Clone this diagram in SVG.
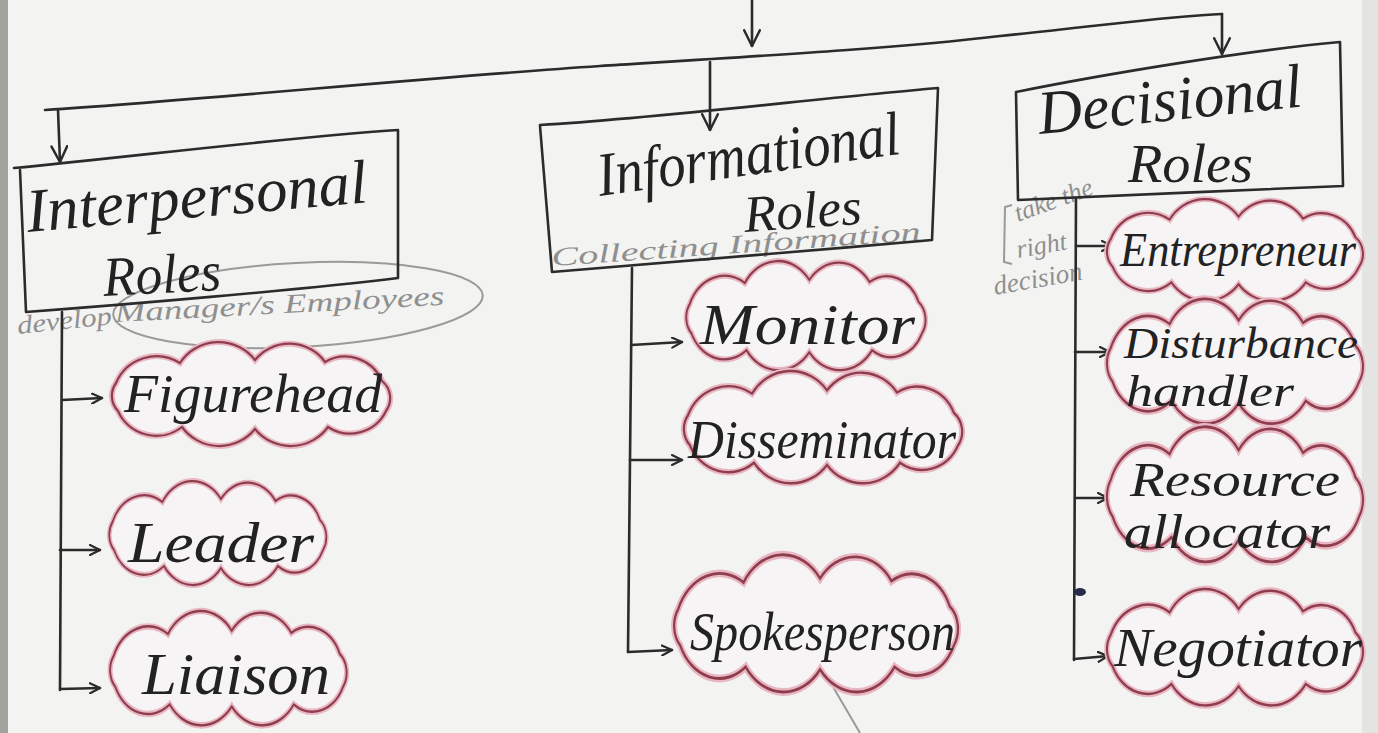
<svg xmlns="http://www.w3.org/2000/svg" xmlns:xlink="http://www.w3.org/1999/xlink" width="1378" height="733" viewBox="0 0 1378 733">
<style>
.ink{fill:none;stroke:#2b2b2b;stroke-width:2.6;stroke-linecap:round;stroke-linejoin:round}
.pencil{fill:none;stroke:#9a9a9a;stroke-width:2}
.hand{font-family:"Liberation Serif","DejaVu Serif",serif;font-style:italic;fill:#222}
.note{font-family:"Liberation Serif","DejaVu Serif",serif;font-style:italic;fill:#8f8f8f}
.cloudGlow{fill:#f6f4f4;stroke:#e9b7c4;stroke-width:6;vector-effect:non-scaling-stroke}
.cloudLine{fill:none;stroke:#8e3d4c;stroke-width:2.2;vector-effect:non-scaling-stroke}
</style>
<defs>
<marker id="arr" viewBox="0 0 12 12" refX="11" refY="6" markerWidth="12" markerHeight="12" markerUnits="userSpaceOnUse" orient="auto">
<path d="M1,1 L11,6 L1,11" fill="none" stroke="#2b2b2b" stroke-width="2.2" stroke-linecap="round"/>
</marker>
<marker id="arrBig" viewBox="0 0 16 16" refX="15" refY="8" markerWidth="18" markerHeight="18" markerUnits="userSpaceOnUse" orient="auto">
<path d="M1,1 L15,8 L1,15" fill="none" stroke="#2b2b2b" stroke-width="2.2" stroke-linecap="round"/>
</marker>
<path id="cloud" d="M16,40 A44,44 0 0 1 80,20 A46,46 0 0 1 155,17 A44,44 0 0 1 225,19 A40,40 0 0 1 282,38 A22,22 0 0 1 286,68 A40,40 0 0 1 228,84 A46,46 0 0 1 155,86 A46,46 0 0 1 82,84 A42,42 0 0 1 18,68 A22,22 0 0 1 16,40 Z"/>
</defs>

<rect x="0" y="0" width="1378" height="733" fill="#f3f3f1"/>
<rect x="0" y="0" width="8" height="733" fill="#a3a39e"/>
<rect x="1362" y="0" width="16" height="733" fill="#e4e4e2"/>

<!-- pencil notes -->
<g id="notes">
<ellipse cx="298" cy="305" rx="185" ry="42" transform="rotate(-3 298 305)" class="pencil"/>
<text class="note" x="18" y="334" font-size="26" transform="rotate(-6 18 334)" textLength="95" lengthAdjust="spacingAndGlyphs">develop</text>
<text class="note" x="115" y="322" font-size="27" textLength="330" lengthAdjust="spacingAndGlyphs" transform="rotate(-3 115 322)">Manager/s Employees</text>
<text class="note" x="552" y="266" font-size="26" textLength="370" lengthAdjust="spacingAndGlyphs" transform="rotate(-4 552 266)">Collecting Information</text>
<path class="pencil" d="M1012,205 L1005,207 L1004,262 L1012,264"/>
<text class="note" x="1018" y="222" font-size="26" transform="rotate(-20 1018 222)">take the</text>
<text class="note" x="1018" y="258" font-size="26" transform="rotate(-10 1018 258)">right</text>
<text class="note" x="995" y="295" font-size="27" transform="rotate(-10 995 295)">decision</text>
<line class="pencil" x1="822" y1="668" x2="860" y2="733" stroke-width="1.5"/>
</g>

<!-- connectors -->
<g id="connectors" class="ink">
<path d="M752,0 L752,46" marker-end="url(#arrBig)"/>
<path d="M45,110 C200,100 420,78 600,66 C760,56 900,48 1000,36 C1100,26 1170,16 1222,14"/>
<path d="M1222,14 L1222,54" marker-end="url(#arrBig)"/>
<path d="M58,110 L60,162" marker-end="url(#arrBig)"/>
<path d="M710,62 L710,130" marker-end="url(#arrBig)"/>
<!-- interpersonal column -->
<path d="M62,312 L60,690"/>
<path d="M62,400 L102,398" marker-end="url(#arr)"/>
<path d="M60,550 L100,550" marker-end="url(#arr)"/>
<path d="M60,689 L100,688" marker-end="url(#arr)"/>
<!-- informational column -->
<path d="M632,268 L628,652"/>
<path d="M631,345 L682,342" marker-end="url(#arr)"/>
<path d="M630,460 L682,460" marker-end="url(#arr)"/>
<path d="M628,652 L672,650" marker-end="url(#arr)"/>
<!-- decisional column -->
<path d="M1076,198 L1074,660"/>
<path d="M1076,246 L1112,246" marker-end="url(#arr)"/>
<path d="M1075,352 L1110,352" marker-end="url(#arr)"/>
<path d="M1075,498 L1108,498" marker-end="url(#arr)"/>
<path d="M1074,659 L1108,656" marker-end="url(#arr)"/>
<ellipse cx="1080" cy="592" rx="6" ry="4" fill="#2a2a4a" stroke="none"/>
</g>

<!-- boxes -->
<g id="interpersonal">
<path class="ink" d="M14,168 C120,158 300,136 398,130 L398,278 C300,290 120,305 26,312 L20,170"/>
<text class="hand" x="28" y="232" font-size="62" textLength="342" lengthAdjust="spacingAndGlyphs" transform="rotate(-5 28 232)">Interpersonal</text>
<text class="hand" x="104" y="296" font-size="56" textLength="118" lengthAdjust="spacingAndGlyphs" transform="rotate(-3 104 296)">Roles</text>
</g>
<g id="informational">
<path class="ink" d="M540,125 C660,118 820,98 938,88 L932,240 C800,252 660,262 552,272 L540,126"/>
<text class="hand" x="600" y="196" font-size="62" textLength="305" lengthAdjust="spacingAndGlyphs" transform="rotate(-8 600 196)">Informational</text>
<text class="hand" x="745" y="232" font-size="52" textLength="118" lengthAdjust="spacingAndGlyphs" transform="rotate(-4 745 232)">Roles</text>
</g>
<g id="decisional">
<path class="ink" d="M1016,92 C1100,75 1250,50 1340,42 L1343,186 C1250,190 1100,196 1018,200 L1016,93"/>
<text class="hand" x="1040" y="134" font-size="62" textLength="265" lengthAdjust="spacingAndGlyphs" transform="rotate(-6 1040 134)">Decisional</text>
<text class="hand" x="1128" y="182" font-size="54" textLength="125" lengthAdjust="spacingAndGlyphs">Roles</text>
</g>

<!-- clouds -->
<g id="figurehead">
<use xlink:href="#cloud" class="cloudGlow" transform="translate(100,343) scale(1,1)"/>
<use xlink:href="#cloud" class="cloudLine" transform="translate(100,343) scale(1,1)"/>
<text class="hand" x="124" y="412" font-size="54" textLength="258" lengthAdjust="spacingAndGlyphs">Figurehead</text>
</g>
<g id="leader">
<use xlink:href="#cloud" class="cloudGlow" transform="translate(100,482) scale(0.78,1)"/>
<use xlink:href="#cloud" class="cloudLine" transform="translate(100,482) scale(0.78,1)"/>
<text class="hand" x="128" y="562" font-size="56" textLength="186" lengthAdjust="spacingAndGlyphs">Leader</text>
</g>
<g id="liaison">
<use xlink:href="#cloud" class="cloudGlow" transform="translate(100,612) scale(0.85,1.1)"/>
<use xlink:href="#cloud" class="cloudLine" transform="translate(100,612) scale(0.85,1.1)"/>
<text class="hand" x="142" y="694" font-size="60" textLength="188" lengthAdjust="spacingAndGlyphs">Liaison</text>
</g>
<g id="monitor">
<use xlink:href="#cloud" class="cloudGlow" transform="translate(676,262) scale(0.86,1.05)"/>
<use xlink:href="#cloud" class="cloudLine" transform="translate(676,262) scale(0.86,1.05)"/>
<text class="hand" x="700" y="344" font-size="58" textLength="215" lengthAdjust="spacingAndGlyphs">Monitor</text>
</g>
<g id="disseminator">
<use xlink:href="#cloud" class="cloudGlow" transform="translate(672,372) scale(1,1.08)"/>
<use xlink:href="#cloud" class="cloudLine" transform="translate(672,372) scale(1,1.08)"/>
<text class="hand" x="688" y="458" font-size="54" textLength="268" lengthAdjust="spacingAndGlyphs">Disseminator</text>
</g>
<g id="spokesperson">
<use xlink:href="#cloud" class="cloudGlow" transform="translate(662,556) scale(1.02,1.32)"/>
<use xlink:href="#cloud" class="cloudLine" transform="translate(662,556) scale(1.02,1.32)"/>
<text class="hand" x="690" y="650" font-size="54" textLength="265" lengthAdjust="spacingAndGlyphs">Spokesperson</text>
</g>
<g id="entrepreneur">
<use xlink:href="#cloud" class="cloudGlow" transform="translate(1096,200) scale(0.92,0.98)"/>
<use xlink:href="#cloud" class="cloudLine" transform="translate(1096,200) scale(0.92,0.98)"/>
<text class="hand" x="1120" y="266" font-size="48" textLength="236" lengthAdjust="spacingAndGlyphs">Entrepreneur</text>
</g>
<g id="disturbance-handler">
<use xlink:href="#cloud" class="cloudGlow" transform="translate(1096,300) scale(0.92,1.2)"/>
<use xlink:href="#cloud" class="cloudLine" transform="translate(1096,300) scale(0.92,1.2)"/>
<text class="hand" x="1124" y="358" font-size="44" textLength="234" lengthAdjust="spacingAndGlyphs">Disturbance</text>
<text class="hand" x="1126" y="406" font-size="44" textLength="168" lengthAdjust="spacingAndGlyphs">handler</text>
</g>
<g id="resource-allocator">
<use xlink:href="#cloud" class="cloudGlow" transform="translate(1096,428) scale(0.92,1.3)"/>
<use xlink:href="#cloud" class="cloudLine" transform="translate(1096,428) scale(0.92,1.3)"/>
<text class="hand" x="1130" y="496" font-size="48" textLength="210" lengthAdjust="spacingAndGlyphs">Resource</text>
<text class="hand" x="1124" y="548" font-size="48" textLength="206" lengthAdjust="spacingAndGlyphs">allocator</text>
</g>
<g id="negotiator">
<use xlink:href="#cloud" class="cloudGlow" transform="translate(1096,590) scale(0.92,1.12)"/>
<use xlink:href="#cloud" class="cloudLine" transform="translate(1096,590) scale(0.92,1.12)"/>
<text class="hand" x="1114" y="666" font-size="54" textLength="248" lengthAdjust="spacingAndGlyphs">Negotiator</text>
</g>
</svg>
